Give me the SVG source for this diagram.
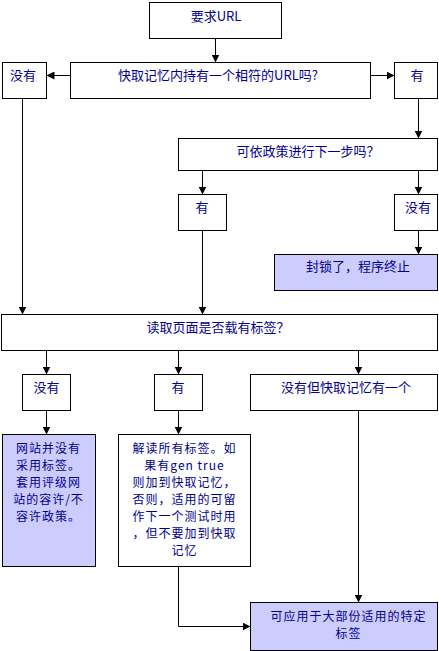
<svg xmlns="http://www.w3.org/2000/svg" width="439" height="651" viewBox="0 0 439 651">
<style>
.box{fill:#fff;stroke:#000;stroke-width:1}
.blue{fill:#ccccff;stroke:#000;stroke-width:1}
text{font-family:"Noto Sans CJK SC","Liberation Sans",sans-serif;font-size:13px;fill:#000099;text-anchor:middle}
.m text{font-size:12px;letter-spacing:1px}
.c{fill:none;stroke:#000;stroke-width:1;marker-end:url(#ah)}
</style>
<defs>
<marker id="ah" markerUnits="userSpaceOnUse" markerWidth="8" markerHeight="8" refX="8" refY="4" orient="auto">
<path d="M0,0 L8,4 L0,8 z" fill="#000"/>
</marker>
</defs>
<rect width="439" height="651" fill="#fff"/>
<g id="connectors">
<path class="c" d="M215.5,38.5 V62.5"/>
<path class="c" d="M70.5,75.5 H46.5"/>
<path class="c" d="M370.5,75.5 H394.5"/>
<path class="c" d="M22.5,98.5 V314.5"/>
<path class="c" d="M418.5,98.5 V138.5"/>
<path class="c" d="M202.5,170.5 V194.5"/>
<path class="c" d="M418.5,170.5 V194.5"/>
<path class="c" d="M418.5,230.5 V254.5"/>
<path class="c" d="M202.5,230.5 V314.5"/>
<path class="c" d="M46.5,350.5 V374.5"/>
<path class="c" d="M178.5,350.5 V374.5"/>
<path class="c" d="M358.5,350.5 V374.5"/>
<path class="c" d="M46.5,410.5 V434.5"/>
<path class="c" d="M178.5,410.5 V434.5"/>
<path class="c" d="M358.5,410.5 V602.5"/>
<path class="c" d="M178.5,566.5 V626.5 H250.5"/>
</g>
<g id="n1"><rect class="box" x="149.5" y="2.5" width="132" height="36"/><text x="216" y="21">要求URL</text></g>
<g id="n2"><rect class="box" x="70.5" y="62.5" width="300" height="36"/><text x="218" y="80">快取记忆内持有一个相符的URL吗?</text></g>
<g id="n3"><rect class="box" x="2.5" y="62.5" width="44" height="36"/><text x="23" y="80">没有</text></g>
<g id="n4"><rect class="box" x="394.5" y="62.5" width="43" height="36"/><text x="417" y="80">有</text></g>
<g id="n5"><rect class="box" x="178.5" y="138.5" width="259" height="32"/><text x="308" y="156">可依政策进行下一步吗？</text></g>
<g id="n6"><rect class="box" x="178.5" y="194.5" width="48" height="36"/><text x="202" y="212">有</text></g>
<g id="n7"><rect class="box" x="394.5" y="194.5" width="43" height="36"/><text x="418" y="212">没有</text></g>
<g id="n8"><rect class="blue" x="274.5" y="254.5" width="163" height="36"/><text x="358" y="271">封锁了，程序终止</text></g>
<g id="n9"><rect class="box" x="1.5" y="314.5" width="436" height="36"/><text x="218" y="332">读取页面是否载有标签？</text></g>
<g id="n10"><rect class="box" x="22.5" y="374.5" width="48" height="36"/><text x="46.5" y="392">没有</text></g>
<g id="n11"><rect class="box" x="154.5" y="374.5" width="48" height="36"/><text x="178" y="392">有</text></g>
<g id="n12"><rect class="box" x="250.5" y="374.5" width="187" height="36"/><text x="346" y="392">没有但快取记忆有一个</text></g>
<g id="n13" class="m"><rect class="blue" x="2.5" y="434.5" width="93" height="132"/>
<text x="48.5" y="453">网站并没有</text>
<text x="48.5" y="470">采用标签。</text>
<text x="48.5" y="487">套用评级网</text>
<text x="48.5" y="504">站的容许/不</text>
<text x="48.5" y="521">容许政策。</text>
</g>
<g id="n14" class="m"><rect class="box" x="118.5" y="434.5" width="132" height="132"/>
<text x="184.5" y="453">解读所有标签。如</text>
<text x="184.5" y="470">果有gen true</text>
<text x="184.5" y="487">则加到快取记忆，</text>
<text x="184.5" y="504">否则，适用的可留</text>
<text x="184.5" y="521">作下一个测试时用</text>
<text x="184.5" y="538">，但不要加到快取</text>
<text x="184.5" y="555">记忆</text>
</g>
<g id="n15" class="m"><rect class="blue" x="250.5" y="602.5" width="187" height="48"/>
<text x="348.5" y="621">可应用于大部份适用的特定</text>
<text x="348.5" y="638">标签</text>
</g>
</svg>
